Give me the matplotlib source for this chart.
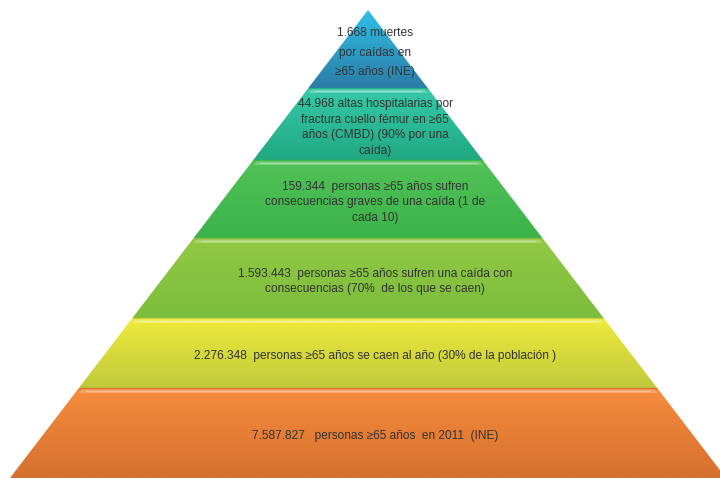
import matplotlib
matplotlib.use('Agg')
import matplotlib.pyplot as plt
import numpy as np
from matplotlib.patches import Polygon
from matplotlib.colors import to_rgb

# Niveles de la pirámide (de arriba a abajo)
etiquetas = [
    '1.668 muertes\npor caídas en\n≥65 años (INE)',
    '44.968 altas hospitalarias por\nfractura cuello fémur en ≥65\naños (CMBD) (90% por una\ncaída)',
    '159.344  personas ≥65 años sufren\nconsecuencias graves de una caída (1 de\ncada 10)',
    '1.593.443  personas ≥65 años sufren una caída con\nconsecuencias (70%  de los que se caen)',
    '2.276.348  personas ≥65 años se caen al año (30% de la población )',
    '7.587.827   personas ≥65 años  en 2011  (INE)',
]
color_arriba = ['#2fbfe8', '#37c9a8', '#52c257', '#92c944', '#efea3b', '#f68c3c']
color_abajo = ['#2b7ca6', '#20a982', '#3bb34a', '#7bbd3d', '#bfca3b', '#d5702f']

# Geometría (pixeles)
W, H = 720, 478
cx, y_apex, y_base, medio_base = 368, 10, 478, 358
cortes = [10, 88, 160, 238, 318, 388, 478]


def borde_x(y):
    return medio_base * (y - y_apex) / (y_base - y_apex)


fig = plt.figure(figsize=(W / 100, H / 100), dpi=100)
ax = fig.add_axes([0, 0, 1, 1])
ax.set_xlim(0, W)
ax.set_ylim(H, 0)
ax.axis('off')

for i, texto in enumerate(etiquetas):
    y0, y1 = cortes[i], cortes[i + 1]
    h0, h1 = borde_x(y0), borde_x(y1)
    pts = [(cx - h0, y0), (cx + h0, y0), (cx + h1, y1), (cx - h1, y1)]
    poly = Polygon(pts, closed=True, facecolor='none', edgecolor='none')
    ax.add_patch(poly)

    # degradado vertical
    n = 64
    c0, c1 = np.array(to_rgb(color_arriba[i])), np.array(to_rgb(color_abajo[i]))
    t = np.linspace(0, 1, n)[:, None]
    grad = (c0 * (1 - t) + c1 * t)[:, None, :]
    im = ax.imshow(grad, extent=(cx - h1, cx + h1, y1, y0), origin='upper',
                   aspect='auto', interpolation='bilinear', zorder=1)
    im.set_clip_path(poly)

    # bisel superior: línea oscura en el borde y brillo debajo
    if i > 0:
        ax.plot([cx - h0 + 1, cx + h0 - 1], [y0 + 0.3, y0 + 0.3], color=color_abajo[i],
                lw=1.0, alpha=0.8, zorder=2)
        hb = borde_x(y0 + 5)
        ax.add_patch(Polygon([(cx - h0 + 3, y0 + 1.5), (cx + h0 - 3, y0 + 1.5),
                              (cx + hb - 4, y0 + 5), (cx - hb + 4, y0 + 5)],
                             closed=True, facecolor='white', alpha=0.22,
                             edgecolor='none', zorder=2))
        ax.plot([cx - h0 + 7, cx + h0 - 7], [y0 + 2.8, y0 + 2.8], color='white',
                alpha=0.3, lw=1.0, solid_capstyle='round', zorder=3)

    ls = 1.85 if i == 0 else 1.4
    ax.text(375, (y0 + y1) / 2 + 3.5, texto, ha='center', va='center',
            multialignment='center', fontsize=8.6, color='#333333',
            linespacing=ls, family=['Liberation Sans', 'DejaVu Sans'],
            zorder=4)

ax.set_xlim(0, W)
ax.set_ylim(H, 0)
fig.savefig('out.png', dpi=100, facecolor='white')
